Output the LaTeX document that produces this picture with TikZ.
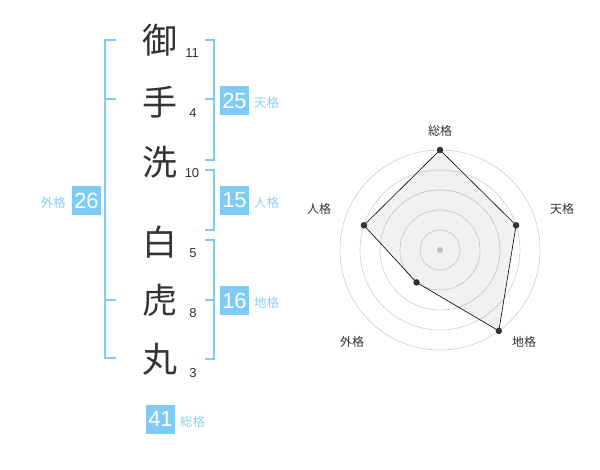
\documentclass[tikz,border=0pt]{standalone}
\usepackage{fontspec}
\usetikzlibrary{calc}
\setmainfont{Liberation Sans}
\newfontfamily\cjk{Noto Sans CJK JP}
\definecolor{bl}{HTML}{80CBF4}
\definecolor{bltxt}{HTML}{8CCFF2}
\definecolor{ink}{HTML}{333333}
\definecolor{ring}{HTML}{CCCCCC}
\begin{document}
\begin{tikzpicture}[x=1pt,y=-1pt,
  kanji/.style={font=\cjk\fontsize{35}{35}\selectfont, text=ink, inner sep=0pt},
  stroke/.style={font=\fontsize{13}{13}\selectfont, text=ink, inner sep=0pt},
  numbox/.style={fill=bl, text=white, minimum width=29pt, minimum height=29pt, inner sep=0pt, font=\fontsize{22}{22}\selectfont},
  lab/.style={font=\cjk\fontsize{12.5}{12.5}\selectfont, text=bltxt, inner sep=0pt},
  brk/.style={draw=bl, line width=1.6pt},
  rlab/.style={font=\cjk\fontsize{12}{12}\selectfont, text=ink, inner sep=0pt},
  pt/.style={circle, fill=ink, inner sep=0pt, minimum size=6.5pt}
]
\useasboundingbox (0,0) rectangle (600,470);
% kanji
\node[kanji] (k1) at (160,40) {御};
\node[kanji] (k2) at (160,102) {手};
\node[kanji] (k3) at (160,162) {洗};
\node[kanji] (k4) at (160,242) {白};
\node[kanji] (k5) at (160,300) {虎};
\node[kanji] (k6) at (160,359) {丸};
% stroke counts
\node[stroke] (s1) at (192,53) {11};
\node[stroke] (s2) at (193,113) {4};
\node[stroke] (s3) at (192,173) {10};
\node[stroke] (s4) at (193,253) {5};
\node[stroke] (s5) at (193,313) {8};
\node[stroke] (s6) at (193,373) {3};
% brackets
\draw[brk] (116,40) -- (105,40) -- (105,358) -- (116,358);
\draw[brk] (105,99) -- (116,99);
\draw[brk] (105,300) -- (116,300);
\draw[brk] (205,40) -- (214,40) -- (214,160) -- (205,160);
\draw[brk] (205,99) -- (214,99);
\draw[brk] (205,170) -- (214,170) -- (214,230) -- (205,230);
\draw[brk] (205,240) -- (214,240) -- (214,359) -- (205,359);
\draw[brk] (205,300) -- (214,300);
% boxes and labels
\node[numbox] (ten) at (234.5,100.5) {25};
\node[lab, anchor=west] (tenl) at (254,103) {天格};
\node[numbox] (jin) at (234.5,200.5) {15};
\node[lab, anchor=west] (jinl) at (254,203) {人格};
\node[numbox] (gai) at (86.5,200.5) {26};
\node[lab, anchor=east] (gail) at (66,203) {外格};
\node[numbox] (chi) at (234.5,300.5) {16};
\node[lab, anchor=west] (chil) at (254,303) {地格};
\node[numbox] (sou) at (160.5,419) {41};
\node[lab, anchor=west] (soul) at (180,422) {総格};
% radar
\coordinate (c) at (440,250);
\foreach \r in {20,40,60,80,100} \draw[ring, line width=0.6pt] (c) circle[radius=\r];
\fill[ring] (c) circle[radius=3.2];
\coordinate (p1) at ($(c)+(0,-100)$);
\coordinate (p2) at ($(c)+(76.1,-24.7)$);
\coordinate (p3) at ($(c)+(58.8,80.9)$);
\coordinate (p4) at ($(c)+(-23.5,32.4)$);
\coordinate (p5) at ($(c)+(-76.1,-24.7)$);
\filldraw[fill=ink, fill opacity=0.07, draw=black, line width=0.6pt] (p1) -- (p2) -- (p3) -- (p4) -- (p5) -- cycle;
\foreach \p in {p1,p2,p3,p4,p5} \node[pt] at (\p) {};
\node[rlab] (r1) at (440,131) {総格};
\node[rlab] (r2) at (562,209) {天格};
\node[rlab] (r3) at (524,342) {地格};
\node[rlab] (r4) at (352,342) {外格};
\node[rlab] (r5) at (319,209) {人格};
\end{tikzpicture}
\end{document}
